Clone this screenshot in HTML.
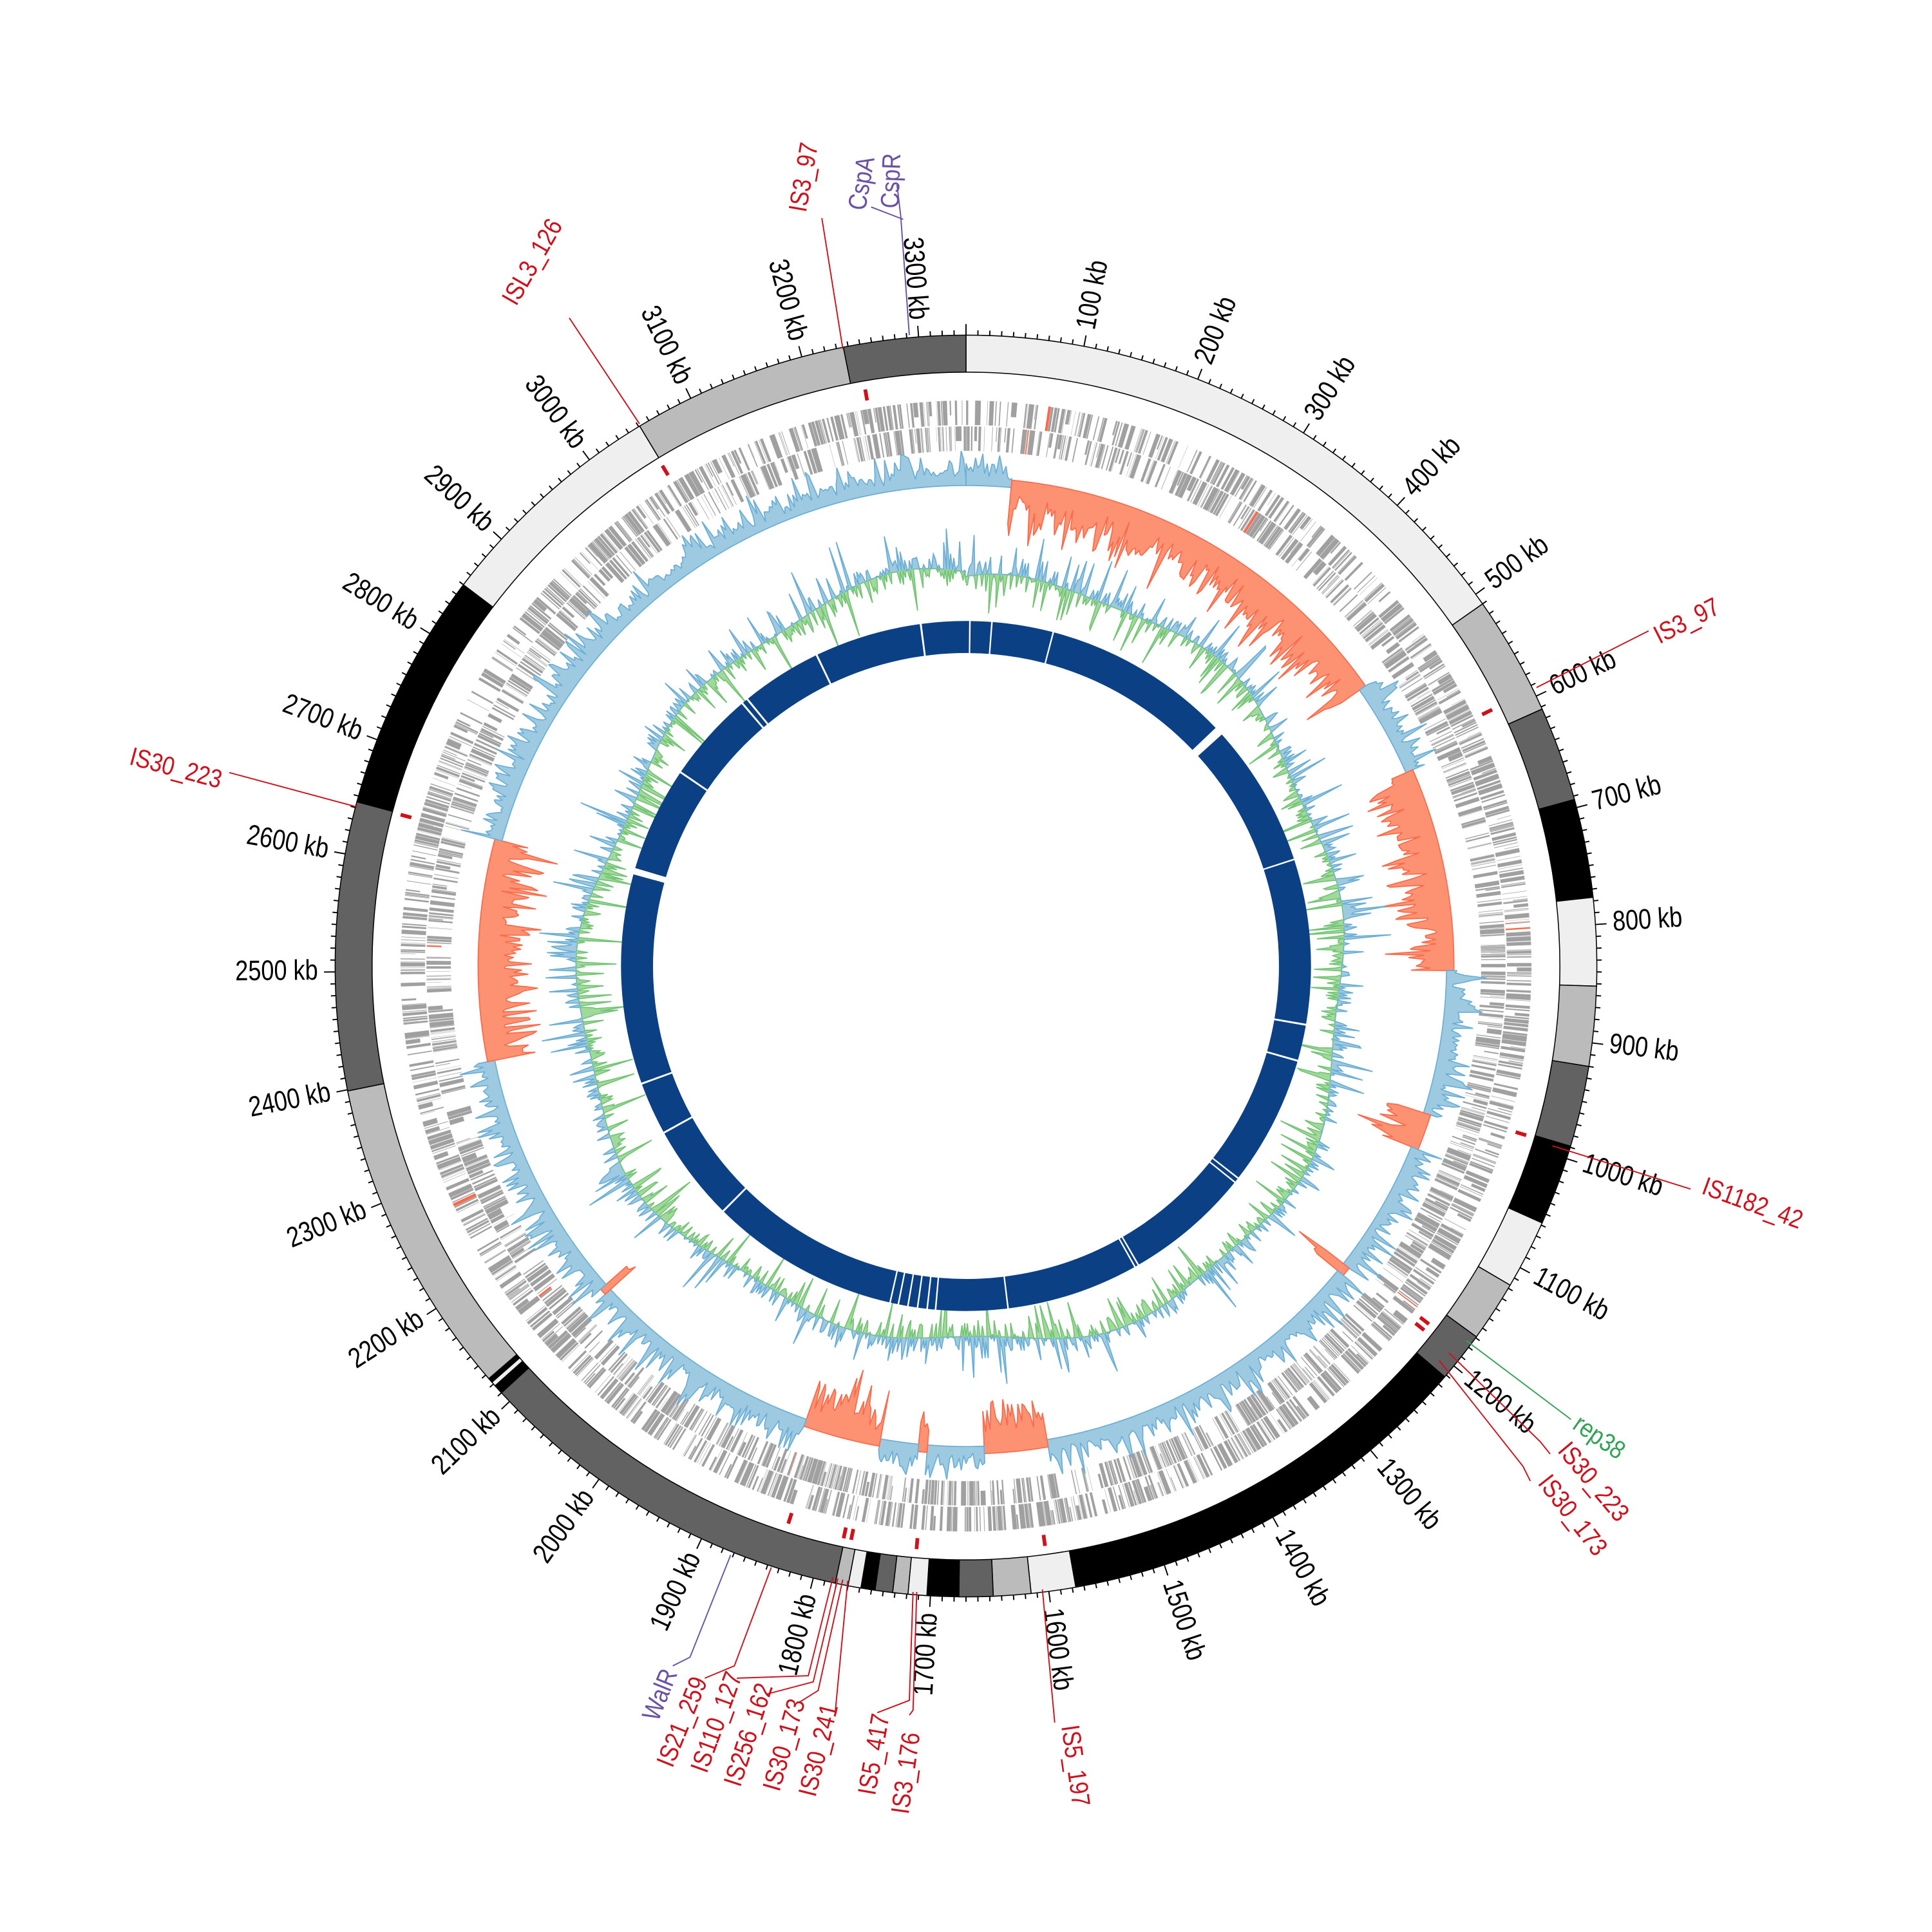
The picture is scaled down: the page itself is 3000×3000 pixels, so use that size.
<!DOCTYPE html>
<html><head><meta charset="utf-8"><style>
html,body{margin:0;padding:0;background:#fff}
svg{display:block}
text{font-family:"Liberation Sans Narrow","Liberation Sans",sans-serif}
.kl{font-size:23px;fill:#000;dominant-baseline:middle}
.lr{font-size:21px;fill:#d0101b}
.lp{font-size:21px;fill:#6a51a3}
.lg{font-size:21px;fill:#31a354}
</style></head><body>
<svg id="s" width="3000" height="3000" viewBox="0 0 1568 1568" xmlns="http://www.w3.org/2000/svg">
<g id="tracks"></g>
<g id="kbl">
<text class="kl">100 kb</text><text class="kl">200 kb</text><text class="kl">300 kb</text><text class="kl">400 kb</text><text class="kl">500 kb</text><text class="kl">600 kb</text><text class="kl">700 kb</text><text class="kl">800 kb</text><text class="kl">900 kb</text><text class="kl">1000 kb</text><text class="kl">1100 kb</text><text class="kl">1200 kb</text><text class="kl">1300 kb</text><text class="kl">1400 kb</text><text class="kl">1500 kb</text><text class="kl">1600 kb</text><text class="kl">1700 kb</text><text class="kl">1800 kb</text><text class="kl">1900 kb</text><text class="kl">2000 kb</text><text class="kl">2100 kb</text><text class="kl">2200 kb</text><text class="kl">2300 kb</text><text class="kl">2400 kb</text><text class="kl">2500 kb</text><text class="kl">2600 kb</text><text class="kl">2700 kb</text><text class="kl">2800 kb</text><text class="kl">2900 kb</text><text class="kl">3000 kb</text><text class="kl">3100 kb</text><text class="kl">3200 kb</text><text class="kl">3300 kb</text>
</g>
<g fill="none" stroke-width="1">
<polyline stroke="#6a51a3" points="738,272 731,175 728,150"/>
<polyline stroke="#6a51a3" points="733,178 707,168"/>
<polyline stroke="#d0101b" points="684,283 667,177"/>
<polyline stroke="#d0101b" points="519,344 462,258"/>
<polyline stroke="#d0101b" points="290,655 186,627"/>
<polyline stroke="#d0101b" points="1247,558 1338,512"/>
<polyline stroke="#d0101b" points="1260,930 1372,965"/>
<polyline stroke="#31a354" points="1190,1088 1275,1152"/>
<polyline stroke="#d0101b" points="1176,1098 1250,1170 1258,1180"/>
<polyline stroke="#d0101b" points="1168,1104 1236,1190 1242,1202"/>
<polyline stroke="#d0101b" points="846,1290 856,1398"/>
<polyline stroke="#d0101b" points="744,1292 741,1388 738,1392"/>
<polyline stroke="#d0101b" points="741,1292 738,1380 712,1390"/>
<polyline stroke="#d0101b" points="688,1283 678,1388"/>
<polyline stroke="#d0101b" points="684,1282 664,1372 648,1382"/>
<polyline stroke="#d0101b" points="680,1281 660,1365 622,1375"/>
<polyline stroke="#d0101b" points="676,1280 656,1360 598,1362"/>
<polyline stroke="#d0101b" points="626,1272 596,1352 572,1362"/>
<polyline stroke="#6a51a3" points="593,1262 560,1345 546,1352"/>
</g>
<text class="lp" transform="translate(730,147) rotate(-88) scale(0.85,1)" text-anchor="middle">CspR</text>
<text class="lp" transform="translate(706,150) rotate(-80) scale(0.85,1)" text-anchor="middle">CspA</text>
<text class="lr" transform="translate(659,145) rotate(-80) scale(0.85,1)" text-anchor="middle">IS3_97</text>
<text class="lr" transform="translate(438,216) rotate(-60) scale(0.85,1)" text-anchor="middle">ISL3_126</text>
<text class="lr" transform="translate(141,630) rotate(15) scale(0.85,1)" text-anchor="middle">IS30_223</text>
<text class="lr" transform="translate(1372,510) rotate(-27) scale(0.85,1)" text-anchor="middle">IS3_97</text>
<text class="lr" transform="translate(1420,983) rotate(20) scale(0.85,1)" text-anchor="middle">IS1182_42</text>
<text class="lg" transform="translate(1294,1172) rotate(35) scale(0.85,1)" text-anchor="middle">rep38</text>
<text class="lr" transform="translate(1288,1207) rotate(50) scale(0.85,1)" text-anchor="middle">IS30_223</text>
<text class="lr" transform="translate(1271,1234) rotate(52) scale(0.85,1)" text-anchor="middle">IS30_173</text>
<text class="lr" transform="translate(866,1434) rotate(82) scale(0.85,1)" text-anchor="middle">IS5_197</text>
<text class="lr" transform="translate(742,1440) rotate(-82) scale(0.85,1)" text-anchor="middle">IS3_176</text>
<text class="lr" transform="translate(716,1425) rotate(-80) scale(0.85,1)" text-anchor="middle">IS5_417</text>
<text class="lr" transform="translate(671,1422) rotate(-76) scale(0.85,1)" text-anchor="middle">IS30_241</text>
<text class="lr" transform="translate(643,1418) rotate(-74) scale(0.85,1)" text-anchor="middle">IS30_173</text>
<text class="lr" transform="translate(614,1410) rotate(-72) scale(0.85,1)" text-anchor="middle">IS256_162</text>
<text class="lr" transform="translate(588,1400) rotate(-70) scale(0.85,1)" text-anchor="middle">IS110_127</text>
<text class="lr" transform="translate(560,1400) rotate(-68) scale(0.85,1)" text-anchor="middle">IS21_259</text>
<text class="lp" transform="translate(542,1378) rotate(-68) scale(0.85,1)" text-anchor="middle">WalR</text>
</svg>
<script>
(function(){
var C=784,T=3340,NS="http://www.w3.org/2000/svg";
var g=document.getElementById("tracks");
function P(r,k){var a=k/T*2*Math.PI;return [(C+r*Math.sin(a)).toFixed(2),(C-r*Math.cos(a)).toFixed(2)];}
function sec(r1,r2,k1,k2){var l=(k2-k1)/T>0.5?1:0;var a=P(r2,k1),b=P(r2,k2),c=P(r1,k2),d=P(r1,k1);
return "M"+a+"A"+r2+","+r2+" 0 "+l+" 1 "+b+"L"+c+"A"+r1+","+r1+" 0 "+l+" 0 "+d+"Z";}
function add(tag,at){var e=document.createElementNS(NS,tag);for(var k in at)e.setAttribute(k,at[k]);g.appendChild(e);return e;}
var s=12345;function R(){s|=0;s=s+0x6D2B79F5|0;var t=Math.imul(s^s>>>15,1|s);t=t+Math.imul(t^t>>>7,61|t)^t;return((t^t>>>14)>>>0)/4294967296;}
var L="#efefef",G="#bbbbbb",D="#626262",B="#000000";
var segs=[[0,510,L],[510,612,G],[612,693,D],[693,777,B],[777,852,L],[852,920,G],[920,989,D],[989,1058,B],[1058,1117,L],[1117,1169,G],[1169,1212,D],[1212,1577,B],[1577,1615,L],[1615,1647,G],[1647,1676,D],[1676,1703,B],[1703,1719,L],[1719,1732,G],[1732,1747,D],[1747,1759,B],[1759,1770,L],[1770,1781,G],[1781,2110,D],[2110,2118,B],[2118,2122,L],[2122,2126,B],[2126,2399,G],[2399,2645,D],[2645,2850,B],[2850,3051,L],[3051,3236,G],[3236,3340,D]];
segs.forEach(function(q){add("path",{d:sec(482,512,q[0],q[1]),fill:q[2],stroke:"#000","stroke-width":0.8});});
var td="";for(var k=0;k<T;k+=10){var big=k%100==0;var a=P(512,k),b=P(big?521:516,k);td+="M"+a+"L"+b;}
add("path",{d:td,stroke:"#000","stroke-width":1,fill:"none"});
var tl=document.getElementById("kbl").children;
for(var i=0;i<tl.length;i++){var kb=(i+1)*100,ang=kb/T*360,p=P(526,kb);
 if(ang<=180){tl[i].setAttribute("transform","translate("+p+") rotate("+(ang-90)+") scale(0.82,1)");tl[i].setAttribute("text-anchor","start");}
 else{tl[i].setAttribute("transform","translate("+p+") rotate("+(ang+90)+") scale(0.82,1)");tl[i].setAttribute("text-anchor","end");}}
[3248,3050,2644,594,991,1192,1185,1834,1782,1775,1715,1598].forEach(function(k){add("path",{d:"M"+P(466,k)+"L"+P(475,k),stroke:"#d0101b","stroke-width":3});});
var gd="",rd="";
[[439,459],[418,438]].forEach(function(ln,li){var k=0;while(k<T){var w=0.4+R()*R()*6;if(R()<0.72){var d=sec(ln[0]+(R()<0.15?8:0),ln[1],k,k+w);if(R()<0.01)rd+=d;else gd+=d;}k+=w+R()*R()*3;}});
add("path",{d:gd,fill:"#a0a0a0",stroke:"#fff","stroke-width":0.15});
add("path",{d:rd,fill:"#fb6a4a"});
var red=[[50,510],[615,840],[1000,1040],[1188,1200],[1580,1648],[1712,1722],[1763,1850],[2112,2120],[2400,2645]];
function isRed(k){for(var i=0;i<red.length;i++)if(k>=red[i][0]&&k<red[i][1])return true;return false;}
var BS=392,st=2.5,segsk=[],cur=null;
for(var k=0;k<T;k+=st){var r=isRed(k);if(!cur||cur.r!=r){if(cur){cur.e=k;segsk.push(cur);}cur={r:r,s:k};}}
cur.e=T;segsk.push(cur);
segsk.forEach(function(q){var pts=[],base=[];
 for(var k=q.s;k<=q.e+0.01;k+=st){var kk=Math.min(k,q.e);var v;
  if(q.r){v=12+R()*22+Math.pow(R(),3)*28;pts.push(P(BS+4-v,kk));}
  else{v=3+R()*10+Math.pow(R(),3)*22;pts.push(P(BS+v,kk));}}
 var br=q.r?BS+4:BS-2;
 for(var k=q.e;k>=q.s-0.01;k-=st*4){base.push(P(br,Math.max(k,q.s)));}
 base.push(P(br,q.s));
 add("path",{d:"M"+pts.join("L")+"L"+base.join("L")+"Z",fill:q.r?"#fc9272":"#9ecae1",stroke:q.r?"#fb6a4a":"#6baed6","stroke-width":0.9,"stroke-linejoin":"bevel"});});
var st2=2,ks=[],ms=[],vs=[];
for(var k=0;k<=T;k+=st2){var m=312+8*Math.sin(k/160)+5*Math.sin(k/57+1);var v=(R()-0.5)*24;if(R()<0.35)v+=(R()-0.5)*60;ks.push(k);ms.push(m);vs.push(v);}
var up=[],dn=[],bs=[];
for(var i=0;i<ks.length;i++){up.push(P(ms[i]+Math.max(vs[i],0),ks[i]));dn.push(P(ms[i]+Math.min(vs[i],0),ks[i]));}
for(var i=ks.length-1;i>=0;i--)bs.push(P(ms[i],ks[i]));
add("path",{d:"M"+dn.join("L")+"L"+bs.join("L")+"Z",fill:"#a1d99b",stroke:"none"});
add("path",{d:"M"+up.join("L")+"L"+bs.join("L")+"Z",fill:"#9ecae1",stroke:"none"});
add("path",{d:"M"+dn.join("L"),fill:"none",stroke:"#74c476","stroke-width":0.9});
add("path",{d:"M"+up.join("L"),fill:"none",stroke:"#6baed6","stroke-width":0.9});
var gaps=[[6,1.2],[40,1.2],[136,1.2],[437,7],[668,1.2],[926,1.5],[983,1.5],[1187,1.2],[1195,1.2],[1392,1.2],[1398,1.2],[1605,1.2],[1717,1.2],[1730,1.2],[1745,1.2],[1760,1.2],[1775,1.2],[1788,1.2],[2085,1.5],[2237,1.5],[2320,1.5],[2653,5],[2822,1.5],[2965,1.5],[2975,1.5],[3102,1.5],[3270,1.5]];
var kk=0,bd="";gaps.forEach(function(gk){bd+=sec(254,280,kk,gk[0]-gk[1]);kk=gk[0]+gk[1];});bd+=sec(254,280,kk,T);
add("path",{d:bd,fill:"#0b4085"});
})();
</script>
</body></html>
